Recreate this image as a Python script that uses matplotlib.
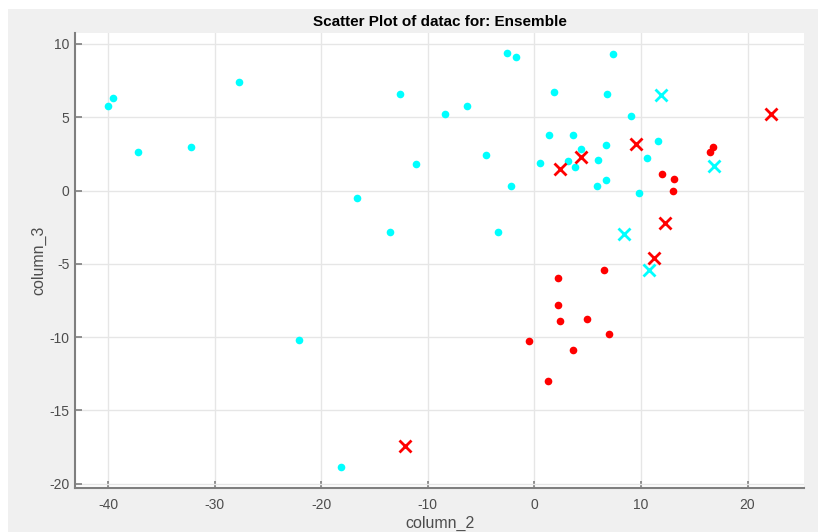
import matplotlib
matplotlib.use('Agg')
from matplotlib import pyplot as plt

# cyan dots (column_2, column_3)
cyan_dot_x = [-40.0, -39.5, -37.2, -32.2, -27.7, -22.1, -18.1, -16.6, -13.5, -12.6,
              -11.1, -8.4, -6.3, -4.5, -3.4, -2.6, -2.2, -1.7, 0.5, 1.4,
              1.8, 3.2, 3.6, 3.8, 4.4, 5.9, 6.0, 6.7, 6.7, 6.8,
              7.4, 9.1, 9.8, 10.6, 11.6]
cyan_dot_y = [5.8, 6.3, 2.6, 3.0, 7.4, -10.2, -18.9, -0.5, -2.8, 6.6,
              1.8, 5.2, 5.8, 2.4, -2.8, 9.4, 0.3, 9.1, 1.9, 3.8,
              6.7, 2.0, 3.8, 1.6, 2.8, 0.3, 2.1, 0.7, 3.1, 6.6,
              9.3, 5.1, -0.2, 2.2, 3.4]

# cyan crosses
cyan_x_x = [11.9, 16.9, 8.4, 10.8]
cyan_x_y = [6.5, 1.7, -3.0, -5.4]

# red dots
red_dot_x = [16.8, 16.5, 12.0, 13.1, 13.0, 6.5, 2.2, 2.2, 2.4, 4.9,
             7.0, -0.5, 3.6, 1.3]
red_dot_y = [3.0, 2.6, 1.1, 0.8, 0.0, -5.4, -6.0, -7.8, -8.9, -8.8,
             -9.8, -10.3, -10.9, -13.0]

# red crosses
red_x_x = [22.2, 9.5, 4.4, 2.4, 12.3, 11.2, -12.1]
red_x_y = [5.2, 3.2, 2.3, 1.5, -2.2, -4.6, -17.4]

xticks = [-40, -30, -20, -10, 0, 10, 20]
yticks = [-20, -15, -10, -5, 0, 5, 10]

plt.rcParams['font.family'] = ['Liberation Sans', 'DejaVu Sans']
plt.rcParams['axes.unicode_minus'] = False

fig = plt.figure(figsize=(8.18, 5.32), dpi=100, facecolor='white')
# gray MATLAB-style figure panel
fig.patches.append(plt.Rectangle((8 / 818, 0), 1, 1 - 9 / 532, transform=fig.transFigure,
                                 facecolor='#f0f0f0', edgecolor='none', zorder=-10))
ax = fig.add_axes([75 / 818, 1 - 488 / 532, (804 - 75) / 818, (488 - 33) / 532])
ax.set_facecolor('white')

ax.plot(cyan_dot_x, cyan_dot_y, 'o', color='#00ffff', markersize=5.5, markeredgewidth=0)
ax.plot(red_dot_x, red_dot_y, 'o', color='#ff0000', markersize=5.5, markeredgewidth=0)
ax.plot(cyan_x_x, cyan_x_y, 'x', color='#00ffff', markersize=8, markeredgewidth=2)
ax.plot(red_x_x, red_x_y, 'x', color='#ff0000', markersize=8, markeredgewidth=2)

ax.set_xlim(-43.1, 25.3)
ax.set_ylim(-20.3, 10.75)
ax.set_xticks(xticks)
ax.set_yticks(yticks)
ax.grid(True, color='#e6e6e6', linewidth=1)
ax.set_axisbelow(True)

for s in ['top', 'right']:
    ax.spines[s].set_visible(False)
for s in ['left', 'bottom']:
    ax.spines[s].set_color('#7f7f7f')
    ax.spines[s].set_linewidth(1.5)
ax.tick_params(direction='in', length=5, width=1.2, color='#7f7f7f',
               labelcolor='#4d4d4d', labelsize=10)
ax.tick_params(axis='x', pad=7)
ax.tick_params(axis='y', pad=4)

ax.set_title('Scatter Plot of datac for: Ensemble', fontsize=11, fontweight='bold', pad=5)
ax.set_xlabel('column_2', fontsize=11.5, color='#4d4d4d', labelpad=3)
ax.set_ylabel('column_3', fontsize=11.5, color='#4d4d4d', labelpad=2)

plt.savefig('out.png', dpi=100, facecolor=fig.get_facecolor())
